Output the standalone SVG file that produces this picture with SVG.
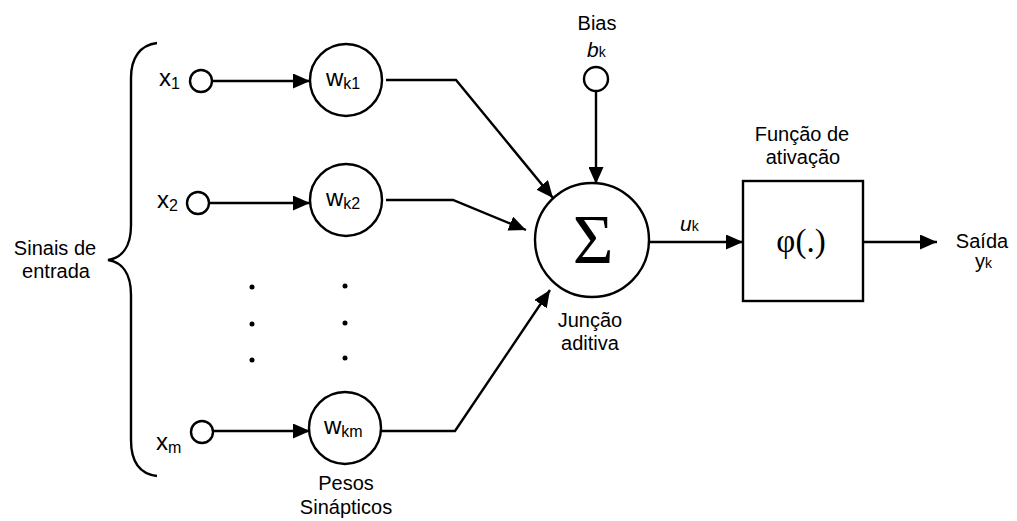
<svg xmlns="http://www.w3.org/2000/svg" width="1017" height="521" viewBox="0 0 1017 521">
<style>
text{font-family:"Liberation Sans",Arial,sans-serif;fill:#000}
.lbl{font-size:20px;text-anchor:middle}
.var{font-size:24px}
.sub{font-size:16px}
.ser{font-family:"Liberation Serif","Times New Roman",serif}
.ln{fill:none;stroke:#000;stroke-width:2.4}
.nd{fill:#fff;stroke:#000;stroke-width:2.4}
.dot{fill:#000}
</style>
<defs>
<marker id="ah" viewBox="0 0 17 15" refX="17" refY="7.5" markerWidth="17" markerHeight="15" markerUnits="userSpaceOnUse" orient="auto">
<path d="M0,0 L17,7.5 L0,15 z" fill="#000"/>
</marker>
</defs>
<rect width="1017" height="521" fill="#fff"/>

<g id="brace">
<path class="ln" d="M157,43 C140,45 131,58 131,78 L131,225 C131,248 121,258 108,260 C121,262 131,272 131,295 L131,440 C131,462 140,474 157,476"/>
<text class="lbl" x="55" y="255">Sinais de</text>
<text class="lbl" x="56" y="278">entrada</text>
</g>

<g id="connectors">
<line class="ln" x1="212" y1="81" x2="310" y2="81" marker-end="url(#ah)"/>
<line class="ln" x1="209" y1="203" x2="310" y2="203" marker-end="url(#ah)"/>
<line class="ln" x1="213" y1="431" x2="310" y2="431" marker-end="url(#ah)"/>
<polyline class="ln" points="386,80 456,80 553,198" marker-end="url(#ah)"/>
<polyline class="ln" points="386,200 453,200 526,230" marker-end="url(#ah)"/>
<polyline class="ln" points="381,431 455,431 550,290" marker-end="url(#ah)"/>
<line class="ln" x1="596" y1="91" x2="596" y2="184" marker-end="url(#ah)"/>
<line class="ln" x1="649" y1="242" x2="743" y2="242" marker-end="url(#ah)"/>
<line class="ln" x1="863" y1="242" x2="937" y2="242" marker-end="url(#ah)"/>
</g>

<g id="x1">
<circle class="nd" cx="201" cy="81" r="11"/>
<text class="var" x="159" y="86">x<tspan class="sub" dy="3">1</tspan></text>
</g>
<g id="x2">
<circle class="nd" cx="198" cy="203" r="11"/>
<text class="var" x="157" y="208">x<tspan class="sub" dy="3">2</tspan></text>
</g>
<g id="xm">
<circle class="nd" cx="202" cy="432" r="11"/>
<text class="var" x="156" y="450">x<tspan class="sub" dy="3">m</tspan></text>
</g>

<g id="wk1">
<circle class="nd" cx="346" cy="80" r="36"/>
<text class="var" x="326" y="86">w<tspan class="sub" dy="3">k1</tspan></text>
</g>
<g id="wk2">
<circle class="nd" cx="346" cy="200" r="36"/>
<text class="var" x="326" y="206">w<tspan class="sub" dy="3">k2</tspan></text>
</g>
<g id="wkm">
<circle class="nd" cx="345" cy="428" r="36"/>
<text class="var" x="324" y="434">w<tspan class="sub" dy="3">km</tspan></text>
<text class="lbl" x="346" y="490">Pesos</text>
<text class="lbl" x="346" y="514">Sinápticos</text>
</g>

<g id="dots">
<circle class="dot" cx="252" cy="287" r="2.5"/>
<circle class="dot" cx="252" cy="324" r="2.5"/>
<circle class="dot" cx="252" cy="360" r="2.5"/>
<circle class="dot" cx="345" cy="286" r="2.5"/>
<circle class="dot" cx="345" cy="323" r="2.5"/>
<circle class="dot" cx="345" cy="358" r="2.5"/>
</g>

<g id="bias">
<text class="lbl" x="597" y="30">Bias</text>
<text x="587" y="57" font-size="21" font-style="italic">b<tspan font-size="14" font-style="normal">k</tspan></text>
<circle class="nd" cx="596" cy="79" r="12"/>
</g>

<g id="sum">
<circle class="nd" cx="592" cy="240" r="57"/>
<text class="ser" x="593" y="263" font-size="70" text-anchor="middle">Σ</text>
<text class="lbl" x="590" y="327">Junção</text>
<text class="lbl" x="590" y="350">aditiva</text>
<text x="680" y="231" font-size="21" font-style="italic">u<tspan font-size="14" font-style="normal">k</tspan></text>
</g>

<g id="activation">
<rect class="nd" x="743" y="181" width="120" height="120"/>
<text class="ser" x="801" y="252" font-size="33" text-anchor="middle">φ(.)</text>
<text class="lbl" x="802" y="141">Função de</text>
<text class="lbl" x="803" y="164">ativação</text>
</g>

<g id="output">
<text class="lbl" x="982" y="248">Saída</text>
<text x="975" y="268" font-size="20">y<tspan font-size="14">k</tspan></text>
</g>
</svg>
